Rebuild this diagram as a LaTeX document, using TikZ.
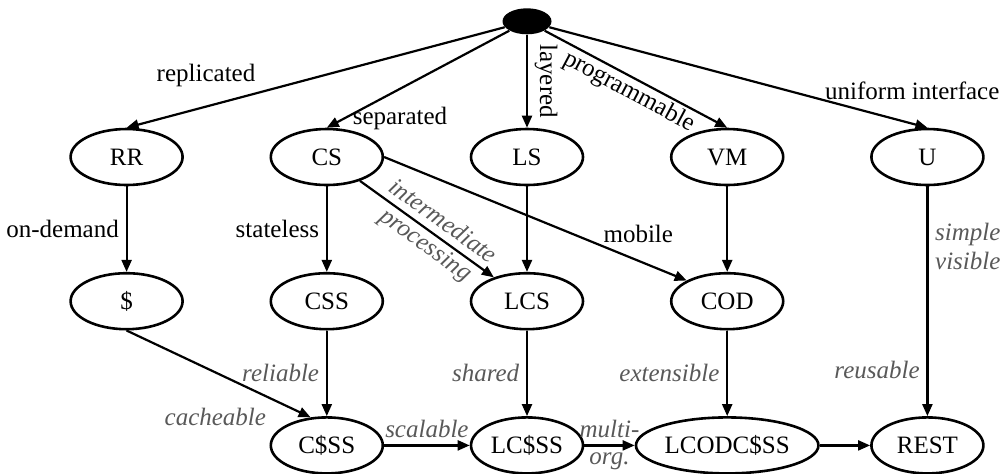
\documentclass[tikz,border=0pt]{standalone}
\usepackage{fontspec}
\setmainfont{Liberation Serif}
\usetikzlibrary{positioning, shapes.geometric, arrows.meta}

\begin{document}
\begin{tikzpicture}[
		x=0.5pt, y=-0.5pt,
		node distance=42.8pt,
		every node/.style={font=\fontsize{12.5pt}{14.5pt}\selectfont},
		state/.style={draw, ellipse, line width=1.3pt, minimum width=56pt, minimum height=28pt, inner sep=1pt},
		start/.style={ellipse, fill=black, minimum width=24.5pt, minimum height=13pt, inner sep=0pt},
		arrow/.style={-{Triangle[length=6pt, width=5pt]}, line width=1.1pt},
		prop/.style={font=\fontsize{12.5pt}{14.5pt}\selectfont\itshape, text=black!65}
		]
		\useasboundingbox (0,0) rectangle (1004,473);
		
		% first row of styles
		\node[state] (LS) at (527,157) {LS};
		\node[start, above=46.5pt of LS] (top) {};
		\node[state, left=of LS] (CS) {CS};
		\node[state, left=of CS] (RR) {RR};
		\node[state, right=of LS] (VM) {VM};
		\node[state, right=of VM] (U) {U};
		
		% second row
		\node[state, below=of RR] (cache) {\$};
		\node[state, below=of CS] (CSS) {CSS};
		\node[state, below=of LS] (LCS) {LCS};
		\node[state, below=of VM] (COD) {COD};
		
		% third row
		\node[state, below=of CSS] (CSSS) {C\$SS};
		\node[state, below=of LCS] (LCSSS) {LC\$SS};
		\node[state, below=of COD, minimum width=79pt] (LCODCSSS) {LCODC\$SS};
		\node[state] (REST) at (U |- LCODCSSS) {REST};
		
		\draw[arrow] (top) -- node[pos=0.79, above=6pt] {replicated} (RR.north);
		\draw[arrow] (top) -- node[pos=0.9, right] {separated} (CS.north);
		\draw[arrow] (top) -- node[midway, anchor=south, rotate=-90] {layered} (LS);
		\draw[arrow] (top) -- node[pos=0.5, sloped, below, inner sep=1pt] {programmable} (VM.north);
		\draw[arrow] (top) -- node[pos=0.96, above=8pt] {uniform interface} (U.north);
		
		\draw[arrow] (RR) -- node[midway, left] {on-demand} (cache);
		\draw[arrow] (CS) -- node[midway, left] {stateless} (CSS);
		\draw[arrow] (CS) -- node[pos=0.55, sloped, prop, align=center] {intermediate\\processing} (LCS);
		\draw[arrow] (CS.east) -- node[pos=0.84, above=5pt] {mobile} (COD.north west);
		\draw[arrow] (LS) -- (LCS);
		\draw[arrow] (VM) -- (COD);
		\draw[arrow] (U) -- node[pos=0.26, right, prop, align=left] {simple\\visible} node[pos=0.8, left, prop] {reusable} (REST);
		
		\draw[arrow] (cache.south) -- node[pos=0.8, below left, prop] {cacheable} (CSSS.120);
		\draw[arrow] (CSS) -- node[midway, left, prop] {reliable} (CSSS);
		\draw[arrow] (LCS) -- node[midway, left, prop] {shared} (LCSSS);
		\draw[arrow] (COD) -- node[midway, left, prop] {extensible} (LCODCSSS);
		
		\draw[arrow] (CSSS) -- node[midway, above, prop] {scalable} (LCSSS);
		\draw[arrow] (LCSSS) -- node[midway, above, prop] {multi-} node[midway, below, prop] {org.} (LCODCSSS);
		\draw[arrow] (LCODCSSS) -- (REST);
		
	\end{tikzpicture}
\end{document}
